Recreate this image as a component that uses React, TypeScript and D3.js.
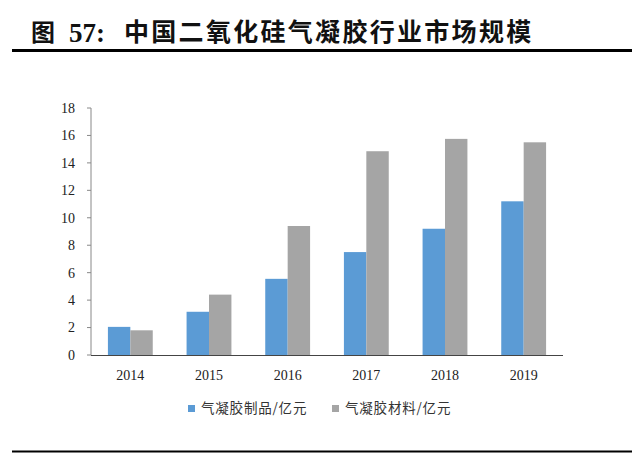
import React from "react";
import * as d3 from "d3";

const years = ["2014", "2015", "2016", "2017", "2018", "2019"];
const products = [2.05, 3.15, 5.55, 7.5, 9.2, 11.2];
const materials = [1.8, 4.4, 9.4, 14.85, 15.75, 15.5];
const seriesNames = ["气凝胶制品/亿元", "气凝胶材料/亿元"];
const colors = ["#5B9BD5", "#A5A5A5"];
const yTicks = [0, 2, 4, 6, 8, 10, 12, 14, 16, 18];

export default function App() {
  const W = 640, H = 454;
  const left = 91, right = 563, top = 108, bottom = 355;
  const x = d3.scaleBand<string>().domain(years).range([left, right]).paddingInner(0.43).paddingOuter(0.215);
  const y = d3.scaleLinear().domain([0, 18]).range([bottom, top]);
  const bw = x.bandwidth() / 2;
  const serif = "'Liberation Serif', 'Times New Roman', serif";
  const cjk = "'Noto Sans CJK SC', sans-serif";
  const series = [products, materials];
  return (
    <svg width={W} height={H} style={{ position: "absolute", left: 0, top: 0, background: "#fff" }}>
      <rect width={W} height={H} fill="#fff" />
      <text x={31} y={41} fontFamily={cjk} fontWeight="bold" fontSize={24} fill="#111">图</text>
      <text x={69} y={42} fontFamily={serif} fontWeight="bold" fontSize={27} fill="#111">57:</text>
      <text x={124} y={41} fontFamily={cjk} fontWeight="bold" fontSize={25} letterSpacing={2.3} fill="#111">中国二氧化硅气凝胶行业市场规模</text>
      <line x1={12} x2={632} y1={50.5} y2={50.5} stroke="#000" strokeWidth={3} />
      <line x1={12} x2={632} y1={451.5} y2={451.5} stroke="#000" strokeWidth={2} />
      {series.map((vals, si) =>
        vals.map((v, i) => (
          <rect key={`${si}-${i}`} x={(x(years[i]) as number) + si * bw} y={y(v)} width={bw} height={bottom - y(v)} fill={colors[si]} />
        ))
      )}
      <line x1={left} x2={left} y1={top} y2={bottom} stroke="#888" strokeWidth={1} />
      {yTicks.map((t) => (
        <g key={t}>
          <line x1={left - 4} x2={left} y1={y(t)} y2={y(t)} stroke="#888" />
          <text x={75} y={y(t)} dy="0.35em" textAnchor="end" fontFamily={serif} fontSize={14} fill="#222">{t}</text>
        </g>
      ))}
      <line x1={left} x2={right} y1={bottom + 0.5} y2={bottom + 0.5} stroke="#444" strokeWidth={1} />
      {years.map((yr) => (
        <text key={yr} x={(x(yr) as number) + x.bandwidth() / 2} y={375} dy="0.35em" textAnchor="middle" fontFamily={serif} fontSize={14} fill="#222">{yr}</text>
      ))}
      {seriesNames.map((n, i) => {
        const lx = i === 0 ? 188 : 332;
        return (
          <g key={n}>
            <rect x={lx} y={405} width={7} height={7} fill={colors[i]} />
            <text x={lx + 13} y={408} dy="0.35em" fontFamily={cjk} fontSize={13.5} letterSpacing={0.8} fill="#333">{n}</text>
          </g>
        );
      })}
    </svg>
  );
}
